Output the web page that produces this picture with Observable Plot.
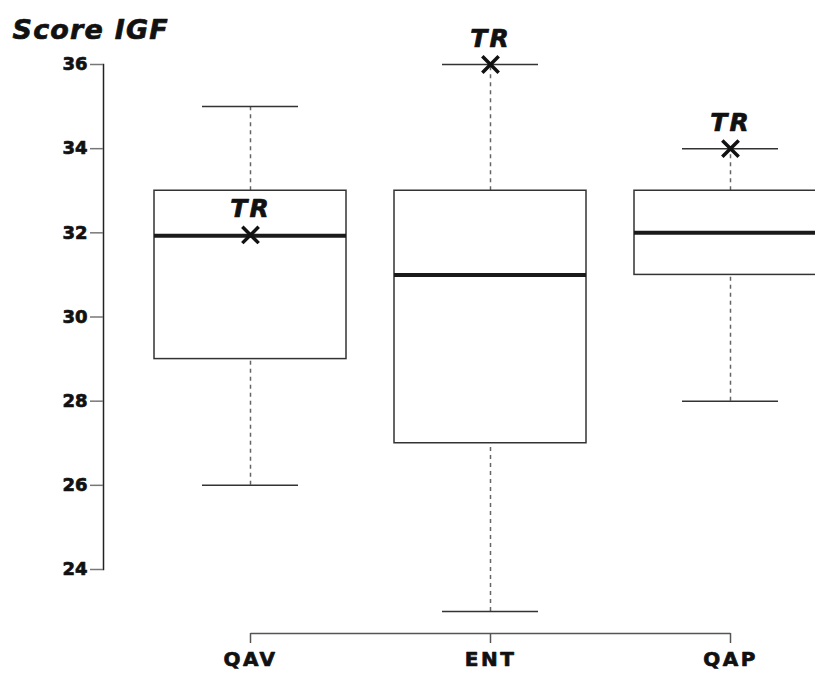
<!DOCTYPE html>
<html><head><meta charset="utf-8">
<script src="https://cdn.jsdelivr.net/npm/d3@7"></script>
<script src="https://cdn.jsdelivr.net/npm/@observablehq/plot@0.6"></script>
<style>body{margin:0;background:#fff} #chart{width:815px;height:673px}</style>
</head><body><div id="chart"></div>
<script>
const groups = ["QAV", "ENT", "QAP"];
const whiskerLow = [26, 23, 28];
const q1 = [29, 27, 31];
const median = [31.93, 31, 32];
const q3 = [33, 33, 33];
const whiskerHigh = [35, 36, 34];
const trValue = [31.95, 36, 34];
const yTicks = [24, 26, 28, 30, 32, 34, 36];
const title = "Score IGF";
const markerLabel = "TR";
const axisLineLevel = 22.48;

const table = groups.map((g, i) => ({group: g, lo: whiskerLow[i], q1: q1[i], med: median[i], q3: q3[i], hi: whiskerHigh[i], tr: trValue[i]}));
const font = "DejaVu Sans";
const chart = Plot.plot({
  width: 815, height: 673, marginTop: 64, marginBottom: 104, marginLeft: 103, marginRight: 0,
  style: {fontFamily: font, background: "#fff", color: "#111"},
  x: {domain: groups, range: [130, 850], paddingInner: 0.2, paddingOuter: 0.1, align: 0.5, axis: null},
  y: {domain: [24, 36], axis: null},
  marks: [
    Plot.frame({anchor: "left", stroke: "#222", strokeWidth: 1.5}),
    Plot.axisY({ticks: yTicks, tickSize: 13, tickPadding: 3, fontSize: 18, fontWeight: "bold", stroke: "#777", strokeWidth: 1.5, label: null, tickFormat: d => String(d)}),
    Plot.link([groups], {x1: d => d[0], x2: d => d[d.length - 1], y1: () => axisLineLevel, y2: () => axisLineLevel, stroke: "#555", strokeWidth: 1.5}),
    Plot.axisX({tickSize: 10, dy: 64, tickPadding: 8, fontSize: 20, fontWeight: "bold", stroke: "#555", strokeWidth: 1.5, label: null}),
    Plot.ruleX(table, {x: "group", y1: "lo", y2: "q1", stroke: "#666", strokeWidth: 1.5, strokeDasharray: "4,4"}),
    Plot.ruleX(table, {x: "group", y1: "q3", y2: "hi", stroke: "#666", strokeWidth: 1.5, strokeDasharray: "4,4"}),
    Plot.tickY(table, {x: "group", y: "lo", insetLeft: 48, insetRight: 48, stroke: "#333", strokeWidth: 1.5}),
    Plot.tickY(table, {x: "group", y: "hi", insetLeft: 48, insetRight: 48, stroke: "#333", strokeWidth: 1.5}),
    Plot.barY(table, {x: "group", y1: "q1", y2: "q3", fill: "white", stroke: "#333", strokeWidth: 1.5}),
    Plot.tickY(table, {x: "group", y: "med", stroke: "#1a1a1a", strokeWidth: 4}),
    Plot.dot(table, {x: "group", y: "tr", symbol: "times", r: 7.5, stroke: "#111", strokeWidth: 3.5}),
    Plot.text(table, {x: "group", y: "tr", text: () => markerLabel, dy: -18, lineAnchor: "bottom", fontSize: 25, fontWeight: "bold", fontStyle: "italic", fill: "#111"}),
    Plot.text([title], {frameAnchor: "top-left", text: d => d, dx: -91, dy: -45, lineAnchor: "top", textAnchor: "start", fontSize: 27, fontWeight: "bold", fontStyle: "italic", fill: "#111"})
  ]
});
document.getElementById("chart").appendChild(chart);
const svg = d3.select(chart);
svg.selectAll("text").attr("stroke", "#111").attr("stroke-width", 0.7).attr("stroke-linejoin", "round");
svg.selectAll('g[aria-label="x-axis tick label"] text').attr("letter-spacing", 2.5);
svg.selectAll("text").filter(function() { return this.textContent === markerLabel; }).attr("letter-spacing", 2);
svg.selectAll("text").filter(function() { return this.textContent === title; }).attr("letter-spacing", 1.2);
</script></body></html>
